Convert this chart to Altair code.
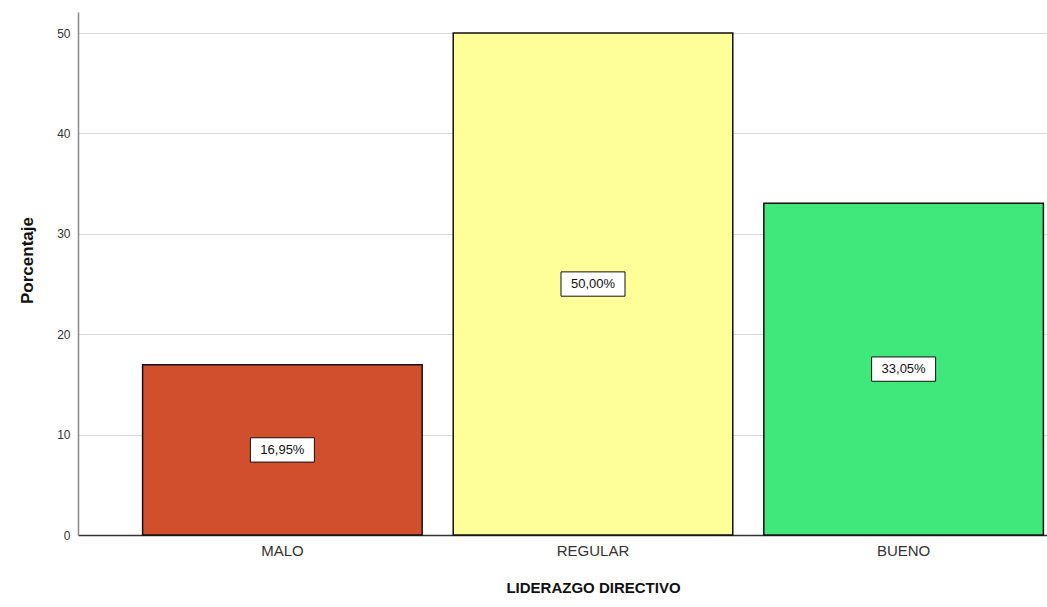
import altair as alt
import pandas as pd

categories = ["MALO", "REGULAR", "BUENO"]
percentages = [16.95, 50.00, 33.05]
labels = ["16,95%", "50,00%", "33,05%"]
colors = ["#D24F2E", "#FFFF9A", "#40E87C"]

df = pd.DataFrame({
    "cat": categories,
    "pct": percentages,
    "half": [p / 2 for p in percentages],
    "label": labels,
})

x_scale = alt.Scale(domain=categories, range=[0, 1030], paddingInner=0.1, paddingOuter=0.208)
y_scale = alt.Scale(domain=[0, 52.1], nice=False)

x_enc = alt.X("cat:N", scale=x_scale, sort=categories,
              axis=alt.Axis(title="LIDERAZGO DIRECTIVO", labelAngle=0, labelFontSize=15,
                            labelColor="#333333", labelFont="Liberation Sans",
                            titleFont="Liberation Sans", titleFontSize=15, titleFontWeight="bold",
                            titleColor="#111111", titlePadding=22, labelPadding=8,
                            ticks=False, domainColor="#333333", domainWidth=1.5, grid=False))

bars = alt.Chart(df).mark_bar(stroke="#111111", strokeWidth=1.5).encode(
    x=x_enc,
    y=alt.Y("pct:Q", scale=y_scale,
            axis=alt.Axis(title="Porcentaje", values=[0, 10, 20, 30, 40, 50], labelFontSize=12,
                          labelColor="#333333", labelFont="Liberation Sans",
                          titleFont="Liberation Sans", titleFontSize=17, titleFontWeight="bold",
                          titleColor="#111111", titlePadding=20, labelPadding=8, ticks=False,
                          titleY=248,
                          domainColor="#888888", domainWidth=1.5,
                          grid=True, gridColor="#d9d9d9", gridWidth=1)),
    color=alt.Color("cat:N", scale=alt.Scale(domain=categories, range=colors), legend=None),
)

boxes = alt.Chart(df).mark_point(
    shape="M-1,-0.38L1,-0.38L1,0.38L-1,0.38Z", size=4096, filled=True,
    fill="white", stroke="#111111", strokeWidth=1, opacity=1,
).encode(
    x=alt.X("cat:N", scale=x_scale, sort=categories),
    y=alt.Y("half:Q", scale=y_scale),
)

texts = alt.Chart(df).mark_text(fontSize=13, font="Liberation Sans", color="#111111").encode(
    x=alt.X("cat:N", scale=x_scale, sort=categories),
    y=alt.Y("half:Q", scale=y_scale),
    text="label:N",
)

chart = (bars + boxes + texts).properties(
    width=969, height=523,
    autosize=alt.AutoSizeParams(type="none"),
    padding={"left": 78, "top": 12, "right": 0, "bottom": 72},
    background="white",
).configure_view(stroke=None)

chart.save("out.html", embed_options={"renderer": "svg", "actions": False})
